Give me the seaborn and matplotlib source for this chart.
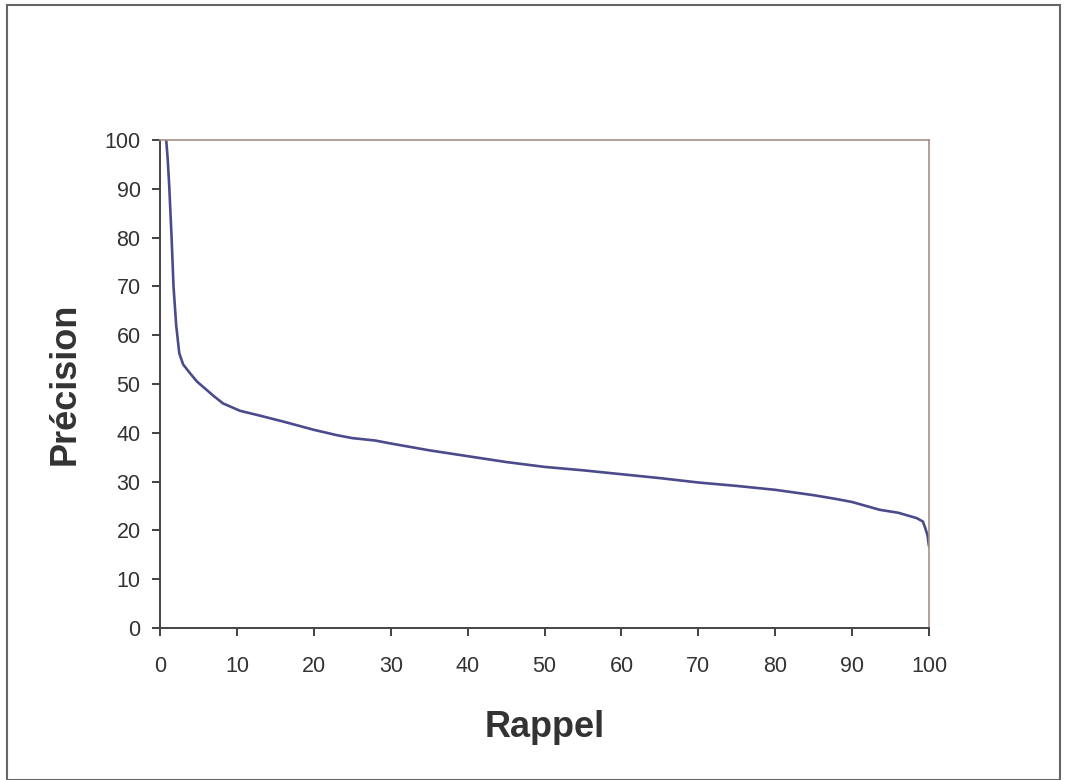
import matplotlib
matplotlib.use("Agg")
import matplotlib.pyplot as plt
import seaborn as sns
import pandas as pd
from matplotlib.patches import Rectangle

rappel = [0.8, 1.0, 1.2, 1.5, 1.75, 2.1, 2.5, 3.0, 3.9, 4.8, 5.6, 7.0, 8.2, 10.4,
          13, 16, 20, 23, 25, 28, 30, 35, 40, 45, 50, 55, 60, 65, 70, 75, 80,
          85, 88, 90, 93.6, 96, 98.4, 99.2, 99.5, 99.8, 100]
precision = [100, 96, 90.4, 80, 70, 62, 56.3, 54, 52.2, 50.5, 49.4, 47.5, 46, 44.5,
             43.5, 42.3, 40.6, 39.5, 38.9, 38.4, 37.8, 36.4, 35.2, 34.0, 33.0, 32.3,
             31.5, 30.7, 29.8, 29.1, 28.3, 27.2, 26.4, 25.8, 24.2, 23.6, 22.5, 21.8,
             20.5, 19.0, 16.7]

df = pd.DataFrame({"Rappel": rappel, "Précision": precision})

sns.set_theme(style="white")
plt.rcParams["font.family"] = ["Liberation Sans", "DejaVu Sans"]

fig = plt.figure(figsize=(10.67, 7.80), dpi=100)
ax = fig.add_axes([0.150, 0.195, 0.7207, 0.6255])

sns.lineplot(data=df, x="Rappel", y="Précision", ax=ax, color="#4b4b8c",
             linewidth=1.9, sort=False, estimator=None)

ax.set_xlim(0, 100)
ax.set_ylim(0, 100)
ax.set_xticks(range(0, 101, 10))
ax.set_yticks(range(0, 101, 10))
ax.tick_params(axis="both", which="major", direction="out", length=6, width=1.3,
               color="#333333", labelsize=15.5, labelcolor="#333333",
               bottom=True, left=True)
ax.tick_params(axis="x", pad=14)
ax.tick_params(axis="y", pad=8)
for s in ["left", "bottom"]:
    ax.spines[s].set_color("#444444")
    ax.spines[s].set_linewidth(1.4)
for s in ["top", "right"]:
    ax.spines[s].set_color("#a89088")
    ax.spines[s].set_linewidth(1.2)

ax.set_xlabel("Rappel", fontsize=26, fontweight="bold", color="#333333", labelpad=24)
ax.set_ylabel("Précision", fontsize=26, fontweight="bold", color="#333333", labelpad=16)

fig.patches.append(Rectangle((7 / 1067, 0.0), (1060 - 7) / 1067, 1 - 5 / 780,
                             transform=fig.transFigure, fill=False,
                             edgecolor="#666666", linewidth=1.5))

fig.savefig("out.png", dpi=100, facecolor="white")
